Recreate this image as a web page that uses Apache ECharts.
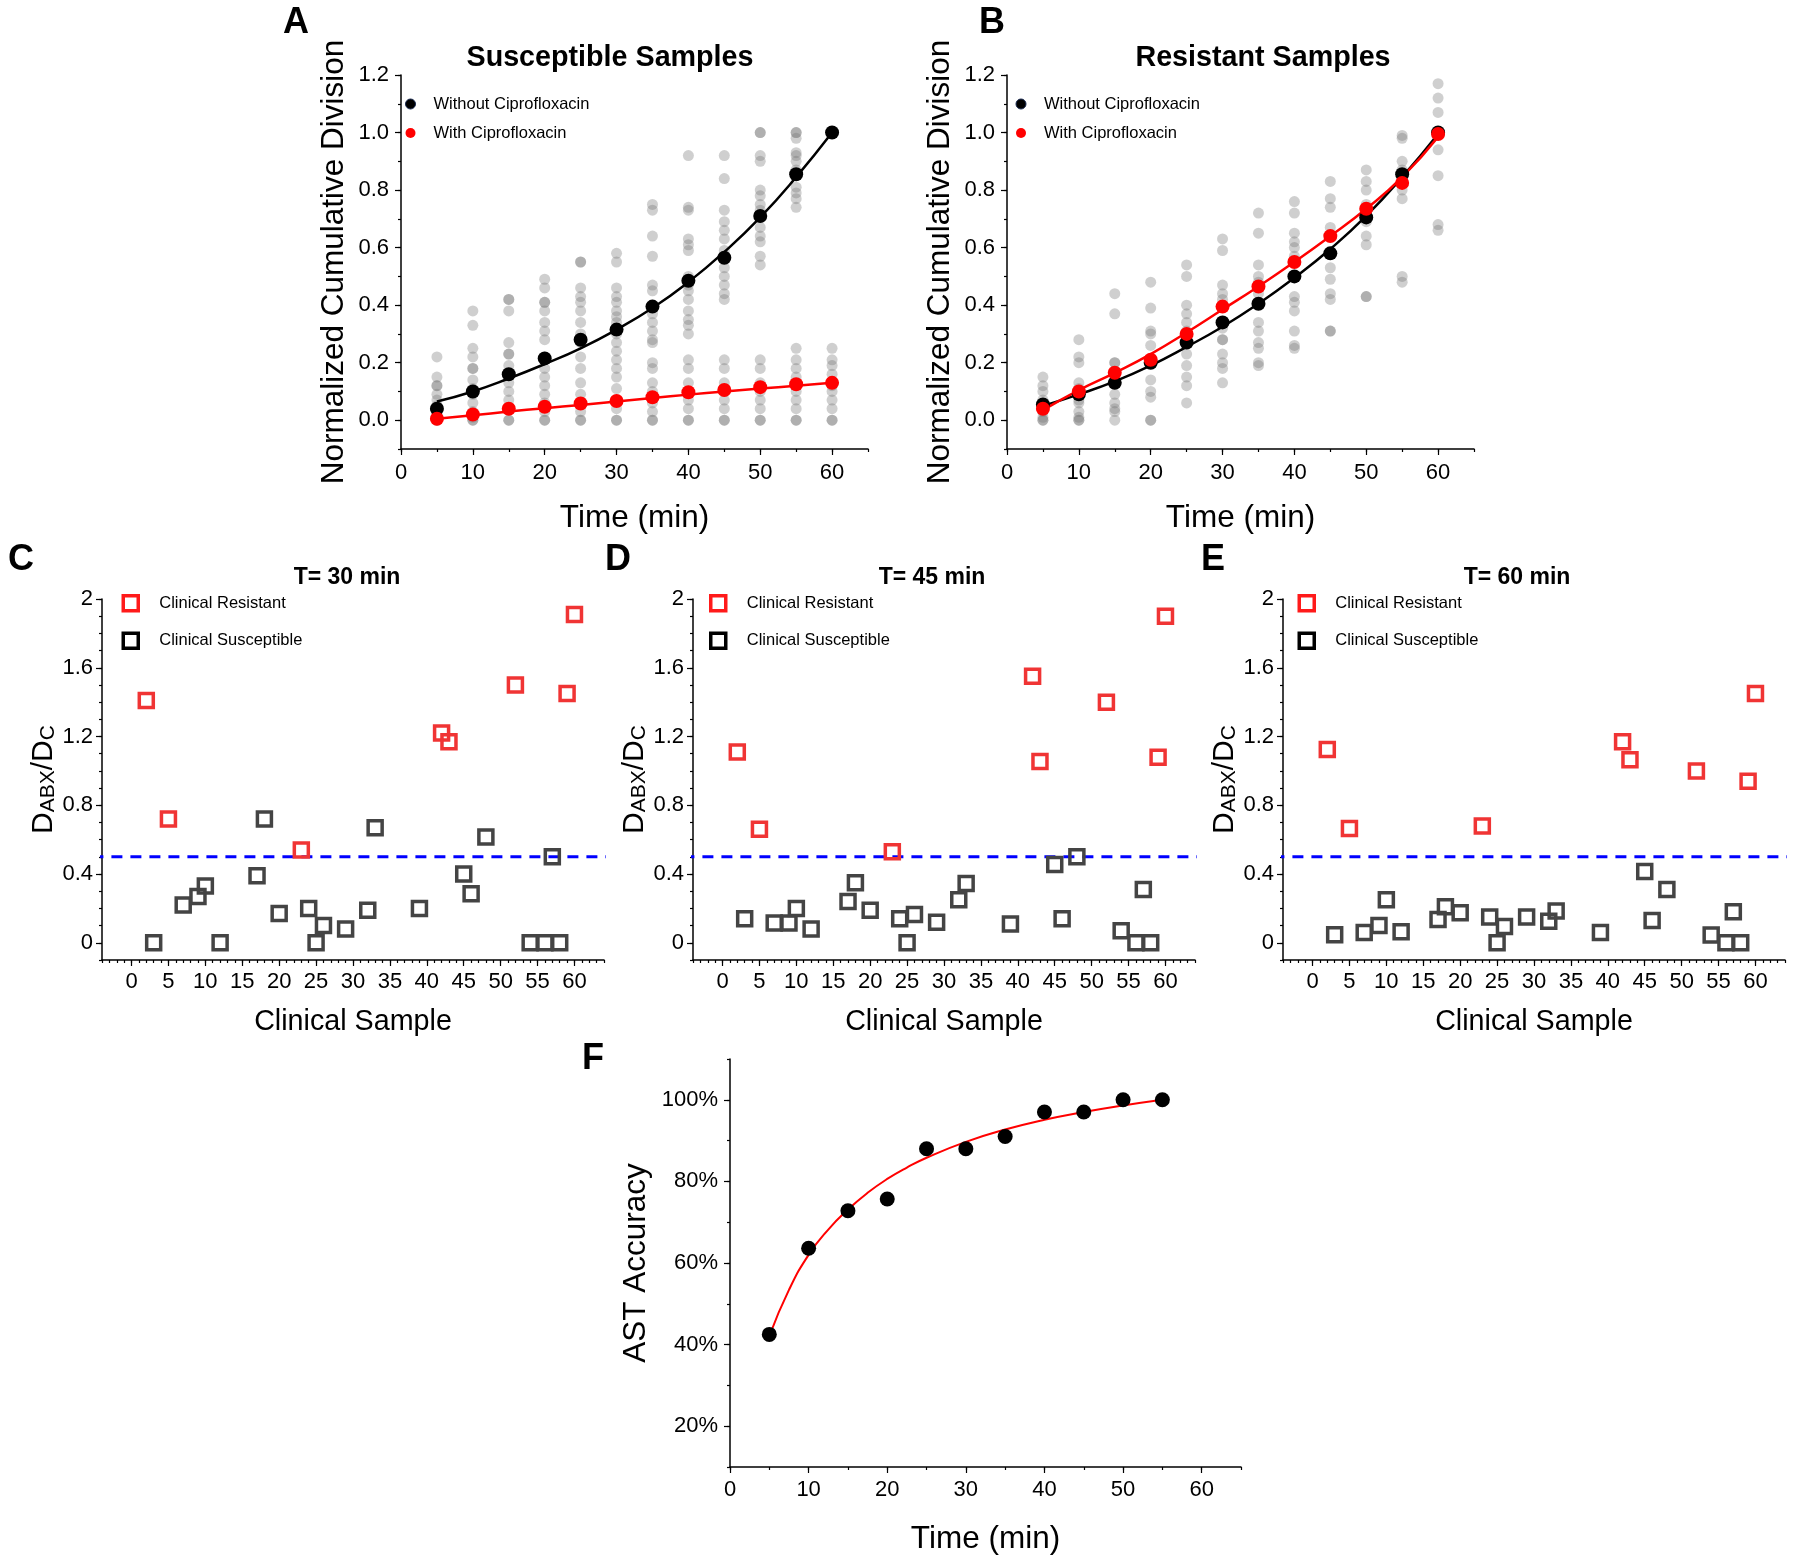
<!DOCTYPE html>
<html>
<head>
<meta charset="utf-8">
<script src="https://cdn.jsdelivr.net/npm/echarts@6/dist/echarts.min.js"></script>
<style>
html,body{margin:0;padding:0;background:#fff;}
#chart{width:1800px;height:1557px;}
</style>
</head>
<body>
<div id="chart"></div>
<script>
// ---------------- DATA ----------------
const timesAB = [5, 10, 15, 20, 25, 30, 35, 40, 45, 50, 55, 60];

// Panel A (susceptible samples): individual sample values per time point
const A_samples = [
  [0.22, 0.15, 0.12, 0.12, 0.09, 0.07, 0.05, 0.03, 0.02, 0.01, 0, 0],
  [0.38, 0.33, 0.25, 0.22, 0.18, 0.18, 0.14, 0.11, 0.09, 0.06, 0.03, 0.01, 0, 0],
  [0.42, 0.42, 0.38, 0.27, 0.23, 0.23, 0.19, 0.16, 0.13, 0.10, 0.07, 0.04, 0, 0],
  [0.49, 0.46, 0.41, 0.41, 0.38, 0.34, 0.31, 0.28, 0.22, 0.18, 0.15, 0.12, 0.09, 0.06, 0.03, 0, 0],
  [0.55, 0.55, 0.46, 0.43, 0.41, 0.38, 0.34, 0.30, 0.27, 0.22, 0.18, 0.13, 0.09, 0.06, 0.03, 0, 0],
  [0.58, 0.55, 0.46, 0.43, 0.41, 0.38, 0.36, 0.34, 0.30, 0.27, 0.24, 0.21, 0.18, 0.15, 0.11, 0.07, 0.04, 0, 0],
  [0.75, 0.73, 0.64, 0.57, 0.47, 0.45, 0.37, 0.34, 0.31, 0.28, 0.27, 0.20, 0.18, 0.13, 0.10, 0.06, 0.03, 0, 0],
  [0.92, 0.74, 0.73, 0.63, 0.61, 0.59, 0.50, 0.47, 0.45, 0.42, 0.38, 0.35, 0.33, 0.30, 0.21, 0.18, 0.13, 0.10, 0.07, 0.04, 0, 0],
  [0.92, 0.84, 0.73, 0.69, 0.66, 0.63, 0.59, 0.53, 0.50, 0.47, 0.44, 0.42, 0.21, 0.18, 0.13, 0.10, 0.07, 0.04, 0, 0],
  [1.0, 1.0, 0.92, 0.90, 0.80, 0.78, 0.75, 0.73, 0.67, 0.64, 0.62, 0.57, 0.54, 0.21, 0.18, 0.13, 0.10, 0.07, 0.04, 0, 0],
  [1.0, 1.0, 0.98, 0.93, 0.92, 0.90, 0.87, 0.81, 0.79, 0.77, 0.74, 0.25, 0.21, 0.18, 0.15, 0.10, 0.07, 0.04, 0, 0],
  [0.25, 0.21, 0.19, 0.16, 0.12, 0.10, 0.07, 0.04, 0, 0]
];
const A_meanWithout = [0.04, 0.10, 0.16, 0.215, 0.28, 0.315, 0.395, 0.485, 0.565, 0.71, 0.855, 1.0];
const A_meanWith    = [0.005, 0.02, 0.04, 0.047, 0.058, 0.067, 0.08, 0.097, 0.105, 0.115, 0.125, 0.13];
const A_fitWithout  = [0.065, 0.10, 0.145, 0.195, 0.25, 0.315, 0.39, 0.48, 0.585, 0.705, 0.845, 1.0];
const A_fitWith     = [0.005, 0.017, 0.03, 0.042, 0.053, 0.065, 0.077, 0.089, 0.1, 0.11, 0.12, 0.13];

// Panel B (resistant samples)
const B_samples = [
  [0.15, 0.12, 0.10, 0.07, 0.04, 0.03, 0.01, 0, 0],
  [0.28, 0.22, 0.20, 0.13, 0.11, 0.07, 0.06, 0.03, 0.01, 0, 0],
  [0.44, 0.37, 0.20, 0.20, 0.16, 0.13, 0.09, 0.06, 0.04, 0.03, 0],
  [0.48, 0.39, 0.31, 0.30, 0.26, 0.20, 0.14, 0.10, 0.08, 0, 0],
  [0.54, 0.50, 0.40, 0.37, 0.34, 0.31, 0.27, 0.23, 0.19, 0.15, 0.12, 0.06],
  [0.63, 0.59, 0.47, 0.44, 0.42, 0.32, 0.28, 0.28, 0.23, 0.20, 0.18, 0.13],
  [0.72, 0.65, 0.54, 0.50, 0.48, 0.44, 0.34, 0.31, 0.27, 0.25, 0.20, 0.19],
  [0.76, 0.72, 0.65, 0.62, 0.60, 0.57, 0.43, 0.41, 0.38, 0.31, 0.26, 0.25],
  [0.83, 0.77, 0.74, 0.67, 0.58, 0.53, 0.49, 0.44, 0.42, 0.31, 0.31],
  [0.87, 0.83, 0.80, 0.75, 0.69, 0.64, 0.61, 0.43, 0.43],
  [0.99, 0.98, 0.90, 0.87, 0.80, 0.77, 0.50, 0.48],
  [1.17, 1.12, 1.07, 0.94, 0.85, 0.68, 0.66]
];
const B_meanWithout = [0.055, 0.09, 0.13, 0.20, 0.27, 0.34, 0.405, 0.50, 0.58, 0.705, 0.855, 1.0];
const B_meanWith    = [0.04, 0.10, 0.165, 0.21, 0.30, 0.395, 0.465, 0.55, 0.64, 0.735, 0.825, 0.995];
const B_fitWithout  = [0.05, 0.09, 0.135, 0.19, 0.255, 0.325, 0.405, 0.495, 0.595, 0.71, 0.845, 0.995];
const B_fitWith     = [0.035, 0.105, 0.165, 0.23, 0.305, 0.385, 0.465, 0.55, 0.64, 0.735, 0.845, 0.985];

// Panels C, D, E: D_ABX/D_C ratio per clinical sample
const resistantSamples   = [2, 5, 23, 42, 43, 52, 59, 60];
const susceptibleSamples = [3, 7, 9, 10, 12, 17, 18, 20, 24, 25, 26, 29, 32, 33, 39, 45, 46, 48, 54, 56, 57, 58];
const C_resistant   = [1.41, 0.72, 0.54, 1.22, 1.17, 1.50, 1.45, 1.91];
const C_susceptible = [0, 0.22, 0.27, 0.33, 0, 0.39, 0.72, 0.17, 0.20, 0, 0.10, 0.08, 0.19, 0.67, 0.20, 0.40, 0.285, 0.615, 0, 0, 0.50, 0];
const D_resistant   = [1.11, 0.66, 0.53, 1.55, 1.055, 1.40, 1.08, 1.90];
const D_susceptible = [0.14, 0.115, 0.115, 0.20, 0.08, 0.24, 0.35, 0.19, 0.14, 0, 0.165, 0.12, 0.25, 0.345, 0.11, 0.455, 0.14, 0.50, 0.07, 0, 0.31, 0];
const E_resistant   = [1.125, 0.665, 0.68, 1.17, 1.065, 1.0, 0.94, 1.45];
const E_susceptible = [0.047, 0.06, 0.10, 0.25, 0.065, 0.135, 0.21, 0.175, 0.15, 0, 0.095, 0.15, 0.125, 0.185, 0.06, 0.415, 0.13, 0.31, 0.045, 0, 0.18, 0];
const thresholdValue = 0.5;
const thresholdSpan = [-5.3, 65];

// Panel F: AST accuracy (%)
const F_times    = [5, 10, 15, 20, 25, 30, 35, 40, 45, 50, 55];
const F_accuracy = [42.5, 63.6, 72.8, 75.7, 88.0, 88.0, 91.0, 97.0, 97.0, 100, 100];
const F_fitTimes = [5, 7.5, 10, 12.5, 15, 17.5, 20, 22.5, 25, 30, 35, 40, 45, 50, 55];
const F_fit      = [42.1, 53.4, 62.0, 68.2, 73.1, 77.2, 80.6, 83.4, 85.8, 89.7, 92.7, 95.1, 97.0, 98.6, 100];

// tick labels
const abYTicks = [0, 0.2, 0.4, 0.6, 0.8, 1.0, 1.2];
const timeTicks = [0, 10, 20, 30, 40, 50, 60];
const ratioTicks = [0, 0.4, 0.8, 1.2, 1.6, 2];
const sampleTicks = [0, 5, 10, 15, 20, 25, 30, 35, 40, 45, 50, 55, 60];
const accTicks = [20, 40, 60, 80, 100];

// ---------------- BUILD ----------------
const FONT = '"Liberation Sans", Arial, sans-serif';
const zip = (xs, ys) => xs.map((x, i) => [x, ys[i]]);
const flatSamples = (times, lists) => {
  const out = [];
  lists.forEach((l, i) => l.forEach(v => out.push([times[i], v])));
  return out;
};

const grids = [
  {left: 401, top: 75, width: 467, height: 374},   // A
  {left: 1007, top: 75, width: 467, height: 374},  // B
  {left: 102, top: 599, width: 502, height: 361},  // C
  {left: 693, top: 599, width: 502, height: 361},  // D
  {left: 1283, top: 599, width: 502, height: 361}, // E
  {left: 730, top: 1059, width: 511, height: 408}  // F
].map(g => Object.assign({containLabel: false, outerBoundsMode: 'none'}, g));

const xAxes = [], yAxes = [];
function addAxis(list, dim, gi, o) {
  const common = {type: 'value', gridIndex: gi, min: o.min, max: o.max, interval: o.minor,
    position: dim === 'x' ? 'bottom' : 'left', splitLine: {show: false}};
  list.push(Object.assign({}, common, {
    axisLine: {show: true, onZero: false, lineStyle: {color: '#000', width: 1.5}},
    axisTick: {show: true, length: 3, lineStyle: {color: '#000', width: 1.2}},
    axisLabel: {customValues: o.majors, formatter: o.fmt, fontSize: o.fontSize || 22, color: '#000',
      margin: o.margin, fontFamily: FONT},
    name: o.name, nameLocation: 'middle', nameGap: o.nameGap,
    nameTextStyle: Object.assign({fontSize: o.nameSize || 31.5, color: '#000', fontFamily: FONT}, o.nameStyle || {})
  }));
  list.push(Object.assign({}, common, {
    axisLine: {show: false, onZero: false},
    axisTick: {show: true, customValues: o.majors, length: 6, lineStyle: {color: '#000', width: 1.2}},
    axisLabel: {show: false}
  }));
}
const fmt1 = v => v.toFixed(1);
const fmtR = v => String(+v.toFixed(1));
const fmtPct = v => Math.round(v) + '%';
const ratioName = {
  rich: {
    a: {fontSize: 30, fontFamily: FONT, color: '#000', verticalAlign: 'bottom', lineHeight: 35},
    b: {fontSize: 21, fontFamily: FONT, color: '#000', verticalAlign: 'bottom', padding: [12, 0, 0, 0]}
  }
};

// A, B
[0, 1].forEach(gi => {
  addAxis(xAxes, 'x', gi, {min: 0, max: 65, minor: 5, majors: timeTicks, fmt: v => String(v), margin: 13,
    name: 'Time (min)', nameGap: 53});
  addAxis(yAxes, 'y', gi, {min: -0.1, max: 1.2, minor: 0.1, majors: abYTicks, fmt: fmt1, margin: 12,
    name: 'Normalized Cumulative Division', nameGap: 51});
});
// C, D, E
[2, 3, 4].forEach(gi => {
  addAxis(xAxes, 'x', gi, {min: -4, max: 64, minor: 1, majors: sampleTicks, fmt: v => String(v), margin: 11,
    name: 'Clinical Sample', nameGap: 48, nameSize: 28.7});
  addAxis(yAxes, 'y', gi, {min: -0.1, max: 2, minor: 0.1, majors: ratioTicks, fmt: fmtR, margin: 9,
    name: '{a|D}{b|ABX}{a|/D}{b|C}', nameGap: 42, nameStyle: ratioName});
});
// F
addAxis(xAxes, 'x', 5, {min: 0, max: 65, minor: 5, majors: timeTicks, fmt: v => String(v), margin: 12,
  name: 'Time (min)', nameGap: 56});
addAxis(yAxes, 'y', 5, {min: 10, max: 110, minor: 10, majors: accTicks, fmt: fmtPct, margin: 12,
  name: 'AST Accuracy', nameGap: 78});

const series = [];
const ax = gi => ({xAxisIndex: gi * 2, yAxisIndex: gi * 2});
function abPanel(gi, samples, fitW, fitWith, meanW, meanWith) {
  series.push(Object.assign({type: 'scatter', name: 'samples' + gi, data: flatSamples(timesAB, samples),
    symbolSize: 11, itemStyle: {color: 'rgba(115,115,115,0.34)', opacity: 1}, z: 1}, ax(gi)));
  series.push(Object.assign({type: 'line', name: 'fitWithout' + gi, data: zip(timesAB, fitW), smooth: true,
    showSymbol: false, symbol: 'none', lineStyle: {color: '#000', width: 2.5}, z: 2}, ax(gi)));
  series.push(Object.assign({type: 'line', name: 'fitWith' + gi, data: zip(timesAB, fitWith), smooth: true,
    showSymbol: false, symbol: 'none', lineStyle: {color: '#ff0000', width: 2.5}, z: 2}, ax(gi)));
  series.push(Object.assign({type: 'scatter', name: 'Without Ciprofloxacin', data: zip(timesAB, meanW),
    symbolSize: 14, itemStyle: {color: '#000', opacity: 1}, z: 3}, ax(gi)));
  series.push(Object.assign({type: 'scatter', name: 'With Ciprofloxacin', data: zip(timesAB, meanWith),
    symbolSize: 14, itemStyle: {color: '#ff0000', opacity: 1}, z: 3}, ax(gi)));
}
abPanel(0, A_samples, A_fitWithout, A_fitWith, A_meanWithout, A_meanWith);
abPanel(1, B_samples, B_fitWithout, B_fitWith, B_meanWithout, B_meanWith);

const RED = '#f03434', DARK = '#444444';
function ratioPanel(gi, res, sus) {
  series.push(Object.assign({type: 'line', name: 'threshold' + gi,
    data: thresholdSpan.map(x => [x, thresholdValue]), clip: false, symbol: 'none', showSymbol: false,
    lineStyle: {color: '#0000ff', width: 3, type: [11, 8]}, z: 1}, ax(gi)));
  series.push(Object.assign({type: 'scatter', name: 'Clinical Resistant', data: zip(resistantSamples, res),
    symbol: 'rect', symbolSize: 14, itemStyle: {color: 'rgba(255,255,255,0)', borderColor: RED, borderWidth: 3.5, opacity: 1}, z: 3}, ax(gi)));
  series.push(Object.assign({type: 'scatter', name: 'Clinical Susceptible', data: zip(susceptibleSamples, sus),
    symbol: 'rect', symbolSize: 14, itemStyle: {color: 'rgba(255,255,255,0)', borderColor: DARK, borderWidth: 3.5, opacity: 1}, z: 3}, ax(gi)));
}
ratioPanel(2, C_resistant, C_susceptible);
ratioPanel(3, D_resistant, D_susceptible);
ratioPanel(4, E_resistant, E_susceptible);

series.push(Object.assign({type: 'line', name: 'accuracyFit', data: zip(F_fitTimes, F_fit), smooth: true,
  showSymbol: false, symbol: 'none', lineStyle: {color: '#ff0000', width: 2}, z: 2}, ax(5)));
series.push(Object.assign({type: 'scatter', name: 'AST Accuracy', data: zip(F_times, F_accuracy),
  symbolSize: 15, itemStyle: {color: '#000', opacity: 1}, z: 3}, ax(5)));

function circleLegend(left) {
  return {orient: 'vertical', left: left, top: 95.5, padding: 0, itemWidth: 10, itemHeight: 10, itemGap: 12,
    selectedMode: false, icon: 'circle',
    textStyle: {fontSize: 16.5, color: '#000', fontFamily: FONT, padding: [0, 0, 0, 13]},
    data: [{name: 'Without Ciprofloxacin', itemStyle: {color: '#000', borderColor: '#1a2a50', borderWidth: 1}},
           {name: 'With Ciprofloxacin', itemStyle: {color: '#ff0000'}}]};
}
function squareLegend(left) {
  return {orient: 'vertical', left: left, top: 594, padding: 0, itemWidth: 15, itemHeight: 15, itemGap: 19,
    selectedMode: false,
    textStyle: {fontSize: 16.5, color: '#000', fontFamily: FONT, padding: [0, 0, 0, 16]},
    data: [{name: 'Clinical Resistant', icon: 'rect', itemStyle: {color: '#fff', borderColor: '#ff1a1a', borderWidth: 3.5}},
           {name: 'Clinical Susceptible', icon: 'rect', itemStyle: {color: '#fff', borderColor: '#000', borderWidth: 3.5}}]};
}

function txt(x, y, text, size, bold) {
  return {type: 'text', x: x, y: y, silent: true,
    style: {text: text, font: (bold ? 'bold ' : '') + size + 'px ' + FONT, fill: '#000',
      textAlign: 'center', textVerticalAlign: 'middle', align: 'center', verticalAlign: 'middle'}};
}

const option = {
  animation: false,
  backgroundColor: '#fff',
  textStyle: {fontFamily: FONT},
  grid: grids,
  xAxis: xAxes,
  yAxis: yAxes,
  legend: [circleLegend(405), circleLegend(1015.5), squareLegend(121.5), squareLegend(709), squareLegend(1297.5)],
  graphic: [
    txt(296, 23, 'A', 36, true), txt(992, 23, 'B', 36, true),
    txt(21, 560, 'C', 36, true), txt(618, 560, 'D', 36, true), txt(1213, 560, 'E', 36, true),
    txt(593, 1059, 'F', 36, true),
    txt(610, 58, 'Susceptible Samples', 28.7, true), txt(1263, 58, 'Resistant Samples', 28.7, true),
    txt(347, 578, 'T= 30 min', 23, true), txt(932, 578, 'T= 45 min', 23, true), txt(1517, 578, 'T= 60 min', 23, true)
  ],
  series: series
};

const chart = echarts.init(document.getElementById('chart'), null, {renderer: 'canvas', width: 1800, height: 1557});
chart.setOption(option);
</script>
</body>
</html>
